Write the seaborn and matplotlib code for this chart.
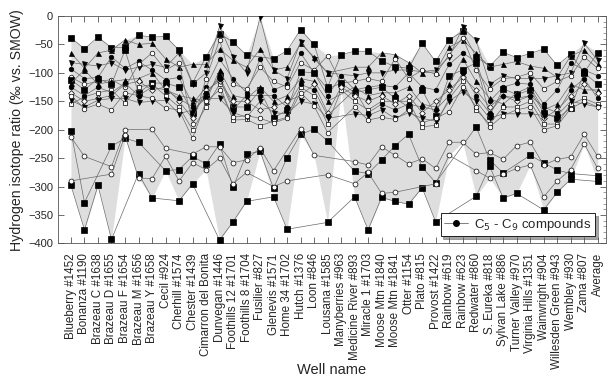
import numpy as np
import pandas as pd
import seaborn as sns
import matplotlib
matplotlib.use("Agg")
import matplotlib.pyplot as plt
from matplotlib.lines import Line2D
from matplotlib.ticker import MultipleLocator

nan = np.nan

wells = [
    "Blueberry #1452", "Bonanza #1190", "Brazeau C #1638", "Brazeau D #1655",
    "Brazeau F #1654", "Brazeau M #1656", "Brazeau Y #1658", "Cecil #924",
    "Cherhill #1574", "Chester #1439", "Cimarron del Bonita", "Dunvegan #1446",
    "Foothills 12 #1701", "Foothills 8 #1704", "Fusilier #827", "Glenevis #1571",
    "Home 34 #1702", "Hutch #1376", "Loon #846", "Lousana #1585",
    "Manyberries #963", "Medicine River #893", "Miracle 1 #1703", "Moose Mtn #1840",
    "Moose Mtn #1841", "Otter #1154", "Plato #815", "Provost #1422",
    "Rainbow #619", "Rainbow #623", "Redwater #860", "S. Eureka #818",
    "Sylvan Lake #886", "Turner Valley #970", "Virginia Hills #1351", "Wainwright #904",
    "Willesden Green #943", "Wembley #930", "Zama #807", "Average",
]

# upper group (C5-C9 compounds, delta D per mil)
sq_top = [-38, -58, -37, -56, -55, -34, -37, -36, -60, -118, -72, -31, -46, -69, nan, -75, -61, -24, -50, -125,
          -68, -62, -62, -79, -89, -92, -48, -80, -42, -27, -72, -88, -64, -73, -66, -58, -87, -67, -99, -65]
tri_up_a = [-65, -92, -65, -60, -42, -50, -48, -75, -90, -85, -85, -58, -78, -90, -58, -95, -90, -48, -72, -100,
            nan, -90, -90, -65, -68, -82, -100, -98, -55, -42, -65, -90, -85, -80, -88, -92, -108, -70, -60, -85]
tri_dn_a = [-82, -85, -88, -82, -95, -90, -85, -90, -65, -120, -100, -18, -72, -100, -2, -95, -110, -45, -75, -100,
            nan, -105, -100, -100, -95, -95, -98, -95, -72, -20, -43, -120, -105, -110, -110, -110, -105, -100, -48, -78]
circ_fill_a = [-93, -110, -108, -72, -92, -80, -95, -112, -108, -155, -125, -76, -110, -135, -75, -130, -120, -65, -100, -140,
               -105, -130, -125, -122, -125, -100, -125, -130, -85, -65, -80, -150, -125, -118, -120, -155, -130, -82, -95, -105]
circ_open_a = [-108, -120, -115, -112, -125, -85, -65, -95, -82, -190, -110, -42, -120, -128, -90, -115, -125, -82, -95, -70,
               -118, -115, -110, -115, -75, -110, -95, -102, -68, -38, -95, -128, -110, -108, -100, -128, -115, -105, -72, -92]
sq_mid = [-112, -130, -110, -120, -60, -135, -118, -118, -125, -170, -140, -105, -160, -160, -130, -180, -165, -98, -100, -128,
          -118, -135, -130, -125, -145, -160, -130, -175, -105, -95, -82, -175, -128, -138, -130, -170, -180, -162, -100, -120]
tri_up_b = [-118, -95, -120, -115, -112, -110, -100, -130, -140, -145, -150, -95, -140, -145, -125, -150, -140, -110, -115, -150,
            nan, -125, -140, -135, -135, -125, -155, -160, -120, -75, -115, -145, -155, -135, -125, -165, -155, -120, -130, -130]
sq_open = [-155, -142, -135, -130, -153, -125, -120, -140, -160, -200, -160, -120, -183, -182, -193, -185, -178, -125, -140, -190,
           -130, -150, -165, -150, -150, -150, -195, -192, -145, -115, -165, -190, -160, -160, -150, -190, -190, -155, -145, -155]
diam_open = [-135, -150, -145, -140, -120, -115, -130, -125, -150, -180, -130, -115, -150, -150, -165, -160, -150, -140, -120, -170,
             -125, -140, -150, -140, -155, -140, -170, -150, -130, -108, -130, -160, -140, -150, -140, -180, -165, -140, -120, -135]
tri_dn_b = [-148, -160, -148, -145, -145, -152, -150, -148, -172, -165, -145, -145, -170, -178, -150, -170, -172, -150, -155, -180,
            nan, -172, -175, -165, -180, -170, -180, -185, -150, -133, -150, -180, -172, -172, -172, -175, -175, -150, -155, -160]
circ_open_b = [-140, -163, -155, -165, -135, -140, -145, -162, -165, -215, -150, -130, -178, -175, -180, -188, -180, -135, -158, -205,
               nan, -160, -183, -178, -182, -165, -188, -180, -168, -125, -160, -195, -175, -165, -160, -200, -193, -163, -150, -160]
circ_fill_b = [-125, -140, -125, -135, -118, -140, -125, -130, -145, -160, -135, -110, -165, -140, -140, -140, -160, -120, -130, -175,
               nan, -130, -170, -155, -165, -155, -160, -165, -140, -100, -140, -170, -140, -145, -140, -160, -170, -130, -110, -145]

# lower group
sq_low_a = [-203, -328, nan, -229, -215, -222, nan, -272, -270, -247, -260, -225, -301, -243, -238, -303, -249, -208, -199, -220,
            nan, -273, -277, -253, -228, -208, -266, -293, nan, nan, -195, -253, -276, nan, -245, -258, -271, -277, nan, -281]
sq_low_b = [-298, -376, -298, -393, nan, -277, -320, nan, -325, -295, nan, -394, -362, -326, nan, -318, -375, nan, nan, -363,
            nan, -318, -376, -319, -326, -331, -302, -362, nan, nan, -317, -264, -320, -312, nan, -341, -310, -287, nan, -291]
circ_low_a = [-213, -247, nan, -265, -200, nan, -199, -233, nan, -243, -230, -230, -258, -253, -232, -272, nan, -199, -245, nan,
              nan, -256, -262, -230, -245, -260, -251, -268, -222, -222, -243, -240, -252, -228, -222, -262, -252, -248, -208, -247]
circ_low_b = [-290, nan, nan, -278, -210, -285, -286, -247, -290, -258, -270, -250, -295, -275, nan, -300, -290, nan, nan, -279,
              nan, -295, -275, -312, -310, nan, nan, -295, -245, nan, -272, -285, -278, -268, -262, -318, -290, -270, -225, -268]

series = [
    ("sq_top", sq_top, "s", "k", 4),
    ("tri_up_a", tri_up_a, "^", "k", 3.6),
    ("tri_dn_a", tri_dn_a, "v", "k", 3.6),
    ("circ_fill_a", circ_fill_a, "o", "k", 3.3),
    ("circ_open_a", circ_open_a, "o", "w", 3.3),
    ("sq_mid", sq_mid, "s", "k", 4),
    ("tri_up_b", tri_up_b, "^", "k", 3.6),
    ("sq_open", sq_open, "s", "w", 3.3),
    ("diam_open", diam_open, "D", "w", 2.9),
    ("tri_dn_b", tri_dn_b, "v", "k", 3.6),
    ("circ_open_b", circ_open_b, "o", "w", 3.3),
    ("circ_fill_b", circ_fill_b, "o", "k", 3.3),
    ("sq_low_a", sq_low_a, "s", "k", 4.8),
    ("sq_low_b", sq_low_b, "s", "k", 4.8),
    ("circ_low_a", circ_low_a, "o", "w", 3.5),
    ("circ_low_b", circ_low_b, "o", "w", 3.5),
]

rows = []
for name, vals, *_ in series:
    for i, v in enumerate(vals):
        rows.append({"pos": i, "well": wells[i], "series": name, "value": v})
df = pd.DataFrame(rows).dropna()

sns.set_style("ticks")
plt.rcParams["font.family"] = ["Liberation Sans", "DejaVu Sans"]

fig = plt.figure(figsize=(6.1, 3.81), dpi=100)
ax = fig.add_axes([0.0951, 0.361, 0.898, 0.597])

env = df.groupby("pos")["value"].agg(["min", "max"]).reset_index()
ax.fill_between(env["pos"], env["min"], env["max"], color="#dedede", lw=0, zorder=0)

for name, vals, mk, fc, ms in series:
    sub = df[df["series"] == name]
    sns.lineplot(sub, x="pos", y="value", ax=ax, estimator=None, sort=True,
                 color="#6a6a6a", lw=0.5, marker=mk, markersize=ms,
                 markerfacecolor=fc, markeredgecolor="k", markeredgewidth=0.5,
                 zorder=3)

ax.set_xlim(-0.96, 39.6)
ax.set_ylim(-400, 0)
ax.set_xticks(range(len(wells)))
ax.set_xticklabels(wells, rotation=90, fontsize=8.4)
ax.yaxis.set_major_locator(MultipleLocator(50))
ax.yaxis.set_minor_locator(MultipleLocator(10))
ax.tick_params(axis="y", labelsize=8)
ax.tick_params(axis="x", pad=7)
ax.tick_params(direction="in", top=True, right=True, length=4, width=0.6, color="#555")
ax.tick_params(which="minor", direction="in", right=True, left=False, length=2, width=0.5, color="#777")
for s in ax.spines.values():
    s.set_linewidth(0.6)
    s.set_color("#555")
ax.set_xlabel("Well name", fontsize=10.5)
ax.xaxis.set_label_coords(0.5, -0.525)
ax.set_ylabel("Hydrogen isotope ratio (‰ vs. SMOW)", fontsize=10.2)
ax.yaxis.set_label_coords(-0.062, 0.5)

handle = Line2D([0], [0], color="#6a6a6a", lw=0.6, marker="o", markersize=4,
                markerfacecolor="k", markeredgecolor="k")
leg = ax.legend([handle], ["C$_5$ - C$_9$ compounds"], loc="lower right",
                bbox_to_anchor=(0.98, 0.033), borderaxespad=0, fontsize=9.5,
                frameon=True, fancybox=False, shadow=True, handlelength=1.8,
                borderpad=0.25, handletextpad=0.5)
leg.get_frame().set_edgecolor("k")
leg.get_frame().set_linewidth(0.6)

fig.savefig("out.png", dpi=100)
